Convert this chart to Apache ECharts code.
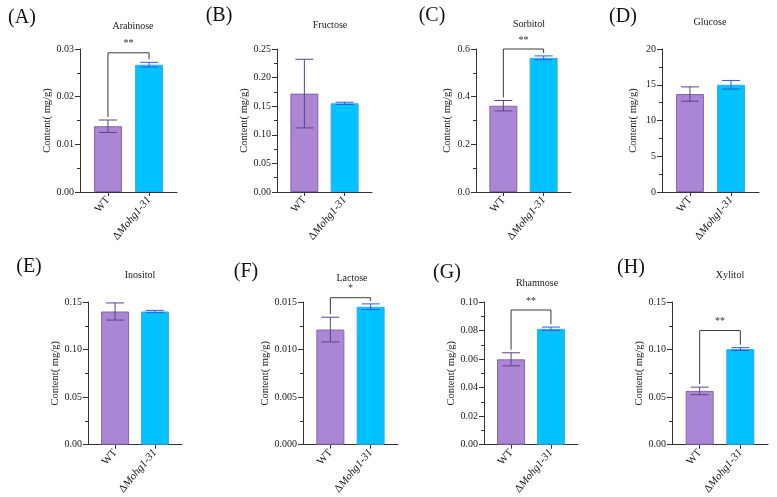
<!DOCTYPE html>
<html>
<head>
<meta charset="utf-8">
<script src="https://cdn.jsdelivr.net/npm/echarts@6/dist/echarts.min.js"></script>
<style>
  html, body { margin: 0; padding: 0; background: #fff; }
  #chart { width: 777px; height: 497px; }
</style>
</head>
<body>
<div id="chart"></div>
<script>
// data
const panelLetters = ['(A)', '(B)', '(C)', '(D)', '(E)', '(F)', '(G)', '(H)'];
const titles = ['Arabinose', 'Fructose', 'Sorbitol', 'Glucose', 'Inositol', 'Lactose', 'Rhamnose', 'Xylitol'];
const categories = ['WT', 'ΔMohg1-31'];
const wtMeans = [0.0138, 0.172, 0.362, 13.7, 0.140, 0.0121, 0.0598, 0.0565];
const wtErrors = [0.0013, 0.060, 0.022, 1.0, 0.009, 0.0013, 0.0046, 0.0040];
const mutMeans = [0.0267, 0.155, 0.563, 15.0, 0.140, 0.0145, 0.0812, 0.1005];
const mutErrors = [0.0005, 0.002, 0.008, 0.6, 0.0012, 0.0003, 0.0012, 0.0015];
const yMax = [0.03, 0.25, 0.6, 20, 0.15, 0.015, 0.10, 0.15];
const yInterval = [0.01, 0.05, 0.2, 5, 0.05, 0.005, 0.02, 0.05];
const yDecimals = [2, 2, 1, 0, 2, 3, 2, 2];
const sigMarks = ['**', '', '**', '', '', '*', '**', '**'];
const bracketLevels = [0.0292, null, 0.6, null, null, 0.01545, 0.0944, 0.120];

// layout (pixels)
const gridLeft = [80, 277, 476, 662, 88, 303, 484, 672];
const gridWidth = [97, 95, 95, 97, 94, 95, 94, 96];
const gridTop = [49, 49, 49, 49, 302, 302, 302, 302];
const gridHeight = 143;
const titlePos = [[133, 26], [330, 25], [529, 24], [710, 22], [140, 275], [352, 278], [537, 283], [730, 275]];
const letterPos = [[22, 18], [219, 16], [432, 16], [623, 17], [29, 267], [246, 272], [447, 273], [631, 268]];

const FONT = '"Liberation Serif", "Times New Roman", serif';
const AXIS = '#333';
const TEXT = '#1a1a1a';
const WT_FILL = '#ab86d4', WT_EDGE = '#8466ab', WT_ERR = '#5e4285';
const MUT_FILL = '#00c2ff', MUT_EDGE = '#3aa8f2', MUT_ERR = '#2a5fe8';

const chart = echarts.init(document.getElementById('chart'));

const grids = [], xAxes = [], yAxes = [], series = [], graphics = [];

titles.forEach((t, i) => {
  grids.push({ left: gridLeft[i], top: gridTop[i], width: gridWidth[i], height: gridHeight });

  xAxes.push({
    type: 'value', gridIndex: i, min: -0.68, max: 1.68,
    splitLine: { show: false },
    axisLine: { show: true, onZero: false, lineStyle: { color: AXIS, width: 1 } },
    axisTick: { show: true, customValues: [0, 1], length: 4, lineStyle: { color: AXIS } },
    axisLabel: {
      customValues: [0, 1], rotate: 50, margin: 6,
      fontFamily: FONT, fontSize: 11, color: TEXT,
      formatter: v => v === 0 ? categories[0] : '{d|Δ}{i|' + categories[1].slice(1) + '}',
      rich: {
        d: { fontFamily: FONT, fontSize: 11, color: TEXT },
        i: { fontFamily: FONT, fontSize: 11, fontStyle: 'italic', color: TEXT }
      }
    }
  });

  yAxes.push({
    type: 'value', gridIndex: i, min: 0, max: yMax[i], interval: yInterval[i],
    name: 'Content( mg/g)', nameLocation: 'middle', nameGap: 23,
    nameTextStyle: { fontFamily: FONT, fontSize: 10.5, color: TEXT },
    splitLine: { show: false },
    axisLine: { show: true, onZero: false, lineStyle: { color: AXIS, width: 1 } },
    axisTick: { show: true, length: 5, lineStyle: { color: AXIS } },
    minorTick: { show: true, splitNumber: 2, length: 3, lineStyle: { color: AXIS } },
    axisLabel: {
      fontFamily: FONT, fontSize: 10, color: TEXT, margin: 6,
      formatter: v => v.toFixed(yDecimals[i])
    }
  });

  series.push({
    type: 'bar', xAxisIndex: i, yAxisIndex: i, barWidth: 28, silent: true,
    data: [
      { value: [0, wtMeans[i]], itemStyle: { color: WT_FILL, borderColor: WT_EDGE, borderWidth: 1 } },
      { value: [1, mutMeans[i]], itemStyle: { color: MUT_FILL, borderColor: MUT_EDGE, borderWidth: 1 } }
    ]
  });

  // error bars
  series.push({
    type: 'custom', xAxisIndex: i, yAxisIndex: i, silent: true, z: 5,
    data: [[0, wtMeans[i], wtErrors[i]], [1, mutMeans[i], mutErrors[i]]],
    renderItem: (params, api) => {
      const x = api.value(0), m = api.value(1), e = api.value(2);
      const top = api.coord([x, m + e]);
      const bot = api.coord([x, m - e]);
      const col = x === 0 ? WT_ERR : MUT_ERR;
      const cap = 9;
      const style = { stroke: col, lineWidth: 1 };
      return {
        type: 'group',
        children: [
          { type: 'line', shape: { x1: top[0], y1: top[1], x2: bot[0], y2: bot[1] }, style },
          { type: 'line', shape: { x1: top[0] - cap, y1: top[1], x2: top[0] + cap, y2: top[1] }, style },
          { type: 'line', shape: { x1: bot[0] - cap, y1: bot[1], x2: bot[0] + cap, y2: bot[1] }, style }
        ]
      };
    }
  });

  // significance bracket
  if (bracketLevels[i] !== null) {
    series.push({
      type: 'custom', xAxisIndex: i, yAxisIndex: i, silent: true, z: 6, clip: false,
      data: [[wtMeans[i] + wtErrors[i], mutMeans[i] + mutErrors[i], bracketLevels[i]]],
      renderItem: (params, api) => {
        const l = api.coord([0, api.value(0)]);
        const r = api.coord([1, api.value(1)]);
        const lv = api.coord([0, api.value(2)])[1];
        return {
          type: 'group',
          children: [
            {
              type: 'polyline',
              shape: { points: [[l[0], l[1] - 3], [l[0], lv], [r[0], lv], [r[0], r[1] - 3]] },
              style: { stroke: '#3a3a3a', lineWidth: 1, fill: null }
            },
            {
              type: 'text',
              style: {
                text: sigMarks[i], x: (l[0] + r[0]) / 2, y: lv - 4,
                align: 'center', verticalAlign: 'bottom',
                fontFamily: FONT, fontSize: 10, fill: '#333'
              }
            }
          ]
        };
      }
    });
  }

  graphics.push({
    type: 'text', x: titlePos[i][0], y: titlePos[i][1],
    style: { text: t, align: 'center', verticalAlign: 'middle', fontFamily: FONT, fontSize: 10, fill: TEXT }
  });
  graphics.push({
    type: 'text', x: letterPos[i][0], y: letterPos[i][1],
    style: { text: panelLetters[i], align: 'center', verticalAlign: 'middle', fontFamily: FONT, fontSize: 20, fill: '#111' }
  });
});

chart.setOption({
  animation: false,
  backgroundColor: '#fff',
  grid: grids,
  xAxis: xAxes,
  yAxis: yAxes,
  series: series,
  graphic: graphics
});
</script>
</body>
</html>
